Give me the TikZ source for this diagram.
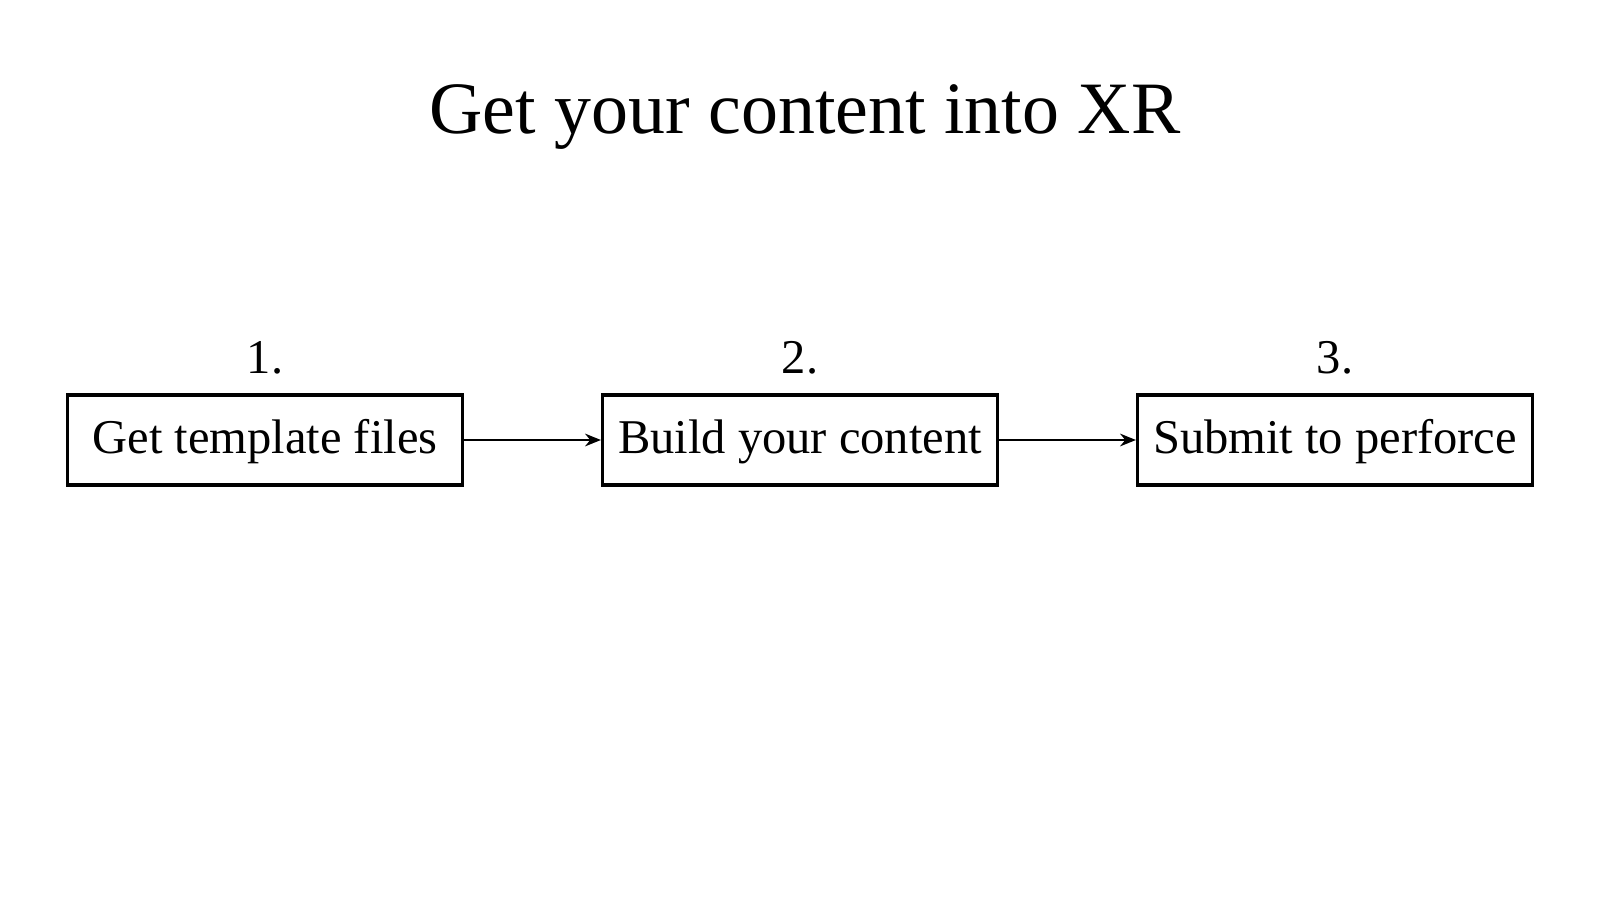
\documentclass[tikz,border=0pt]{standalone}
\usepackage{fontspec}
\setmainfont{Liberation Serif}
\usetikzlibrary{arrows.meta}
\begin{document}
\begin{tikzpicture}[x=0.01cm,y=-0.01cm,
  stepbox/.style={draw, line width=0.9pt, minimum width=395*0.01cm, minimum height=90*0.01cm,
    inner sep=0pt, text height=10.4pt, text depth=3pt, font=\fontsize{13.8}{16}\selectfont},
  steplabel/.style={font=\fontsize{13.8}{16}\selectfont, inner sep=0pt},
  flow/.style={-{Stealth[length=4.5pt,width=3.6pt]}, line width=0.7pt}]
\useasboundingbox (0,0) rectangle (1600,900);
\node[font=\fontsize{21}{25}\selectfont, anchor=base] (title) at (805,133) {Get your content into XR};
\node[stepbox] (s1) at (265,440) {Get template files};
\node[stepbox] (s2) at (800,440) {Build your content};
\node[stepbox] (s3) at (1335,440) {Submit to perforce};
\node[steplabel, anchor=base] (n1) at (265,373) {1.};
\node[steplabel, anchor=base] (n2) at (800,373) {2.};
\node[steplabel, anchor=base] (n3) at (1335,373) {3.};
\draw[flow] (s1.east) -- (s2.west);
\draw[flow] (s2.east) -- (s3.west);
\end{tikzpicture}
\end{document}
